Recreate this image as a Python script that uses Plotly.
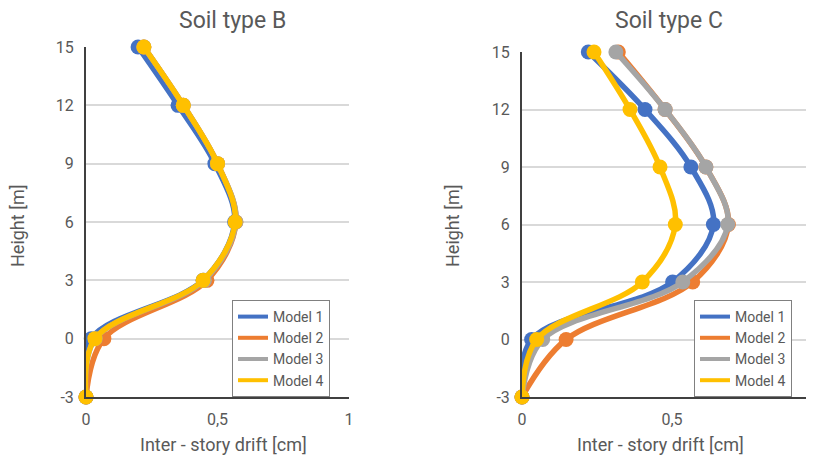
import plotly.graph_objects as go

heights = [-3, 0, 3, 6, 9, 12, 15]
models = ["Model 1", "Model 2", "Model 3", "Model 4"]
colors = ["#4472C4", "#ED7D31", "#A5A5A5", "#FFC000"]

soil_b = {
    "Model 1": [0.0, 0.020, 0.445, 0.565, 0.490, 0.350, 0.198],
    "Model 2": [0.0, 0.068, 0.460, 0.570, 0.500, 0.370, 0.220],
    "Model 3": [0.0, 0.035, 0.450, 0.570, 0.500, 0.370, 0.220],
    "Model 4": [0.0, 0.034, 0.445, 0.567, 0.500, 0.370, 0.220],
}
soil_c = {
    "Model 1": [0.0, 0.032, 0.502, 0.638, 0.563, 0.410, 0.221],
    "Model 2": [0.0, 0.147, 0.569, 0.688, 0.613, 0.477, 0.321],
    "Model 3": [0.0, 0.069, 0.536, 0.686, 0.613, 0.477, 0.313],
    "Model 4": [0.0, 0.049, 0.401, 0.511, 0.460, 0.360, 0.240],
}

x_tickvals = [0, 0.5, 1]
x_ticktext = ["0", "0,5", "1"]
y_tickvals = [-3, 0, 3, 6, 9, 12, 15]
y_ticktext = ["-3", "0", "3", "6", "9", "12", "15"]

OFF = 8  # page body margin
W, H = 814 - OFF, 456 - OFF
FONT = "Roboto"
TXT = "#595959"

fig = go.Figure()

for data, xa, ya, leg in [(soil_b, "x", "y", "legend"), (soil_c, "x2", "y2", "legend2")]:
    for name, col in zip(models, colors):
        fig.add_trace(go.Scatter(
            x=data[name], y=heights, mode="lines+markers", name=name,
            line=dict(color=col, width=5.5, shape="spline", smoothing=1),
            marker=dict(color=col, size=15),
            xaxis=xa, yaxis=ya, showlegend=False, cliponaxis=False,
        ))
    for name, col in zip(models, colors):
        fig.add_trace(go.Scatter(
            x=[None], y=[None], mode="lines", name=name,
            line=dict(color=col, width=4),
            xaxis=xa, yaxis=ya, showlegend=True, legend=leg,
        ))

def px_x(p):
    return (p - OFF) / W

def px_y(p):
    return 1 - (p - OFF) / H

axis_common = dict(
    showline=True, linecolor="#404040", linewidth=2, automargin=False,
    zeroline=False, ticks="outside", ticklen=7, tickcolor="rgba(0,0,0,0)",
    tickfont=dict(family=FONT, size=16, color=TXT),
    fixedrange=True,
)

legend_common = dict(
    xanchor="left", yanchor="top",
    bordercolor="#808080", borderwidth=1, bgcolor="white",
    font=dict(family=FONT, size=14, color=TXT), tracegroupgap=0,
    itemwidth=30,
)

fig.update_layout(
    template="none",
    width=W, height=H,
    margin=dict(l=0, r=0, t=0, b=0, pad=0, autoexpand=False),
    paper_bgcolor="white", plot_bgcolor="white",
    font=dict(family=FONT, color=TXT),
    xaxis=dict(domain=[px_x(86), px_x(349)], range=[0, 1], anchor="y",
               tickvals=x_tickvals, ticktext=x_ticktext, showgrid=False, **axis_common),
    yaxis=dict(domain=[px_y(397), px_y(47)], range=[-3, 15], anchor="x",
               tickvals=y_tickvals, ticktext=y_ticktext,
               showgrid=True, gridcolor="#D9D9D9", gridwidth=1.5, **axis_common),
    xaxis2=dict(domain=[px_x(522), 1.0], range=[0, (814 - 522) / 300], anchor="y2",
                tickvals=x_tickvals[:2], ticktext=x_ticktext[:2], showgrid=False, **axis_common),
    yaxis2=dict(domain=[px_y(397), px_y(52)], range=[-3, 15], anchor="x2",
                tickvals=y_tickvals, ticktext=y_ticktext,
                showgrid=True, gridcolor="#D9D9D9", gridwidth=1.5, **axis_common),
    legend=dict(x=px_x(232), y=px_y(300), **legend_common),
    legend2=dict(x=px_x(694), y=px_y(300), **legend_common),
    showlegend=True,
)

annots = [
    dict(text="Soil type B", x=px_x(232), y=px_y(21), size=23),
    dict(text="Soil type C", x=px_x(669), y=px_y(21), size=23),
    dict(text="Inter - story drift [cm]", x=px_x(224), y=px_y(444), size=18),
    dict(text="Inter - story drift [cm]", x=px_x(660), y=px_y(444), size=18),
    dict(text="1", x=px_x(822), y=px_y(418), size=16),
]
for a in annots:
    fig.add_annotation(text=a["text"], x=a["x"], y=a["y"], xref="paper", yref="paper",
                       showarrow=False, xanchor="center", yanchor="middle",
                       font=dict(family=FONT, size=a["size"], color=TXT))
for xp in (18, 453):
    fig.add_annotation(text="Height [m]", x=px_x(xp), y=px_y(226), xref="paper", yref="paper",
                       showarrow=False, xanchor="center", yanchor="middle", textangle=-90,
                       font=dict(family=FONT, size=18, color=TXT))

fig.write_html("out.html")
